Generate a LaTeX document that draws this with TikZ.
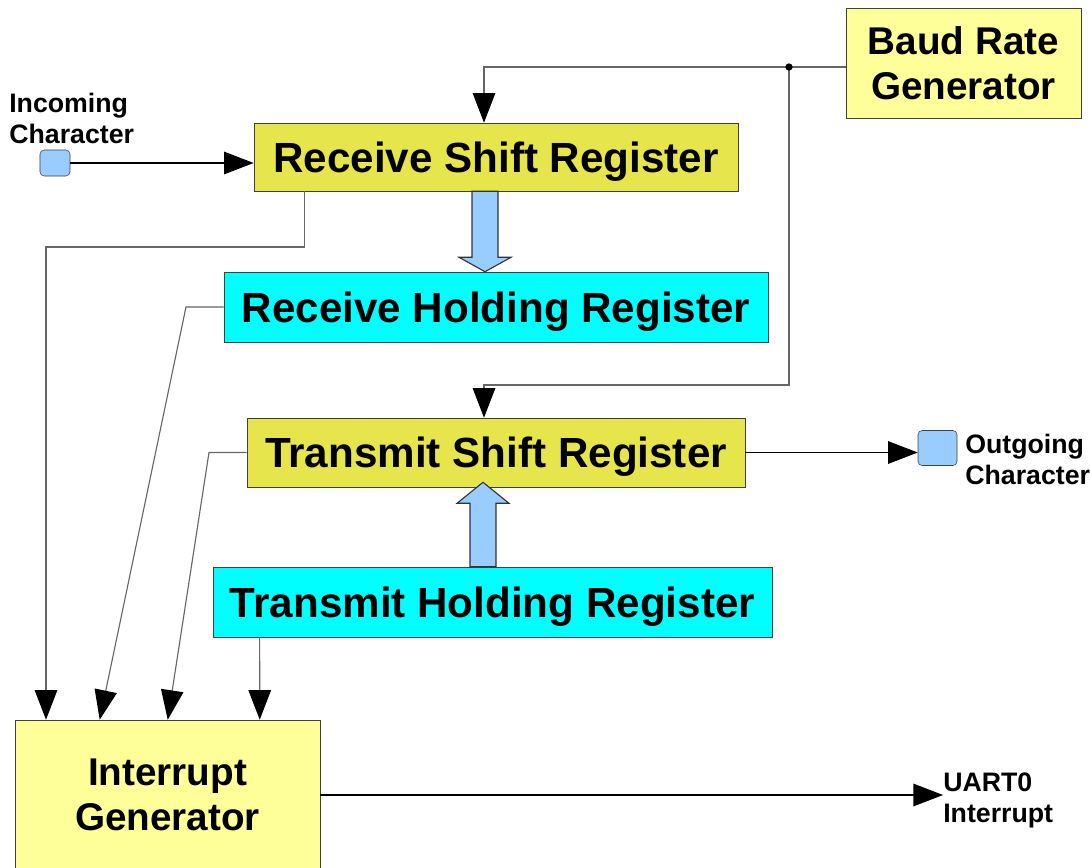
\documentclass[tikz,border=0pt]{standalone}
\usepackage{fontspec}
\setmainfont{Liberation Sans}
\usetikzlibrary{arrows.meta,positioning,calc}
\definecolor{regolive}{HTML}{E6E64C}
\definecolor{paleyel}{HTML}{FFFF99}
\definecolor{regcyan}{HTML}{00FFFF}
\definecolor{pinblue}{HTML}{99CCFF}
\tikzset{
  regbox/.style={rectangle,draw=black!75,fill=regolive,inner sep=0pt,text depth=0pt,font=\fontsize{30}{34}\selectfont\bfseries},
  holdbox/.style={regbox,fill=regcyan},
  genbox/.style={rectangle,draw=black!75,fill=paleyel,inner sep=0pt,text depth=0pt,align=center,font=\fontsize{27.5}{32}\selectfont\bfseries},
  pinbox/.style={rectangle,rounded corners=3pt,draw=black!75,fill=pinblue,inner sep=0pt},
  pinlab/.style={align=left,inner sep=0pt,font=\fontsize{19}{22}\selectfont\bfseries},
  sigline/.style={-{Triangle[length=21pt,width=16pt]},black,line width=0.8pt},
  ctlline/.style={-{Triangle[length=21pt,width=16pt,black]},black!60,line width=0.8pt},
  blockarr/.style={draw=black!80,fill=pinblue,line join=miter,line width=0.8pt}
}

\begin{document}
\begin{tikzpicture}[x=0.025cm,y=-0.025cm]
  \useasboundingbox (0,0) rectangle (1090,867);
  % blocks
  \node[genbox,minimum width=5.875cm,minimum height=2.75cm] (baud) at (963.5,63) {Baud Rate\\Generator};
  \node[regbox,minimum width=12.1cm,minimum height=1.7cm] (rsr) at (496,157) {Receive Shift Register};
  \node[holdbox,minimum width=13.6cm,minimum height=1.75cm] (rhr) at (496,307) {Receive Holding Register};
  \node[regbox,minimum width=12.45cm,minimum height=1.725cm] (tsr) at (496,452.5) {Transmit Shift Register};
  \node[holdbox,minimum width=13.975cm,minimum height=1.75cm] (thr) at (492.5,602) {Transmit Holding Register};
  \node[genbox,minimum width=7.625cm,minimum height=3.75cm] (intgen) at (167.5,795) {Interrupt\\Generator};
  % pins and their labels
  \node[pinbox,minimum width=0.75cm,minimum height=0.65cm] (inchar) at (55,163) {};
  \node[pinlab,anchor=north west] (inlab) at (9,93) {Incoming\\Character};
  \node[pinbox,minimum width=0.975cm,minimum height=0.875cm] (outchar) at (937.5,448) {};
  \node[pinlab,anchor=west] (outlab) at (965,459) {Outgoing\\Character};
  \node[pinlab,anchor=west] (uartlab) at (943,800) {UART0\\Interrupt};
  % data path
  \draw[sigline] (inchar) -- (rsr.west |- inchar);
  \draw[sigline] (tsr.east) -- (outchar.west |- tsr.east);
  \draw[sigline] (intgen.east |- 0,795) -- (uartlab.west |- 0,795);
  % baud clock
  \coordinate (junc) at (789,67);
  \coordinate (tbend) at (789,385);
  \draw[black!60,line width=0.8pt] (baud.west |- junc) -- (junc);
  \draw[ctlline] (junc) -| ([xshift=-0.3cm]rsr.north);
  \draw[ctlline] (junc) -- (tbend) -| ([xshift=-0.3cm]tsr.north);
  \fill (junc) circle (2.6pt);
  % interrupt sources
  \coordinate (rbend) at (46,247);
  \draw[ctlline] ([xshift=1.275cm]rsr.south west) |- (rbend) -- (rbend |- intgen.north);
  \draw[ctlline] (rhr.west) -- (186,307) -- ([xshift=2.125cm]intgen.north west);
  \draw[ctlline] (tsr.west) -- (209,452.5) -- ([xshift=3.825cm]intgen.north west);
  \draw[ctlline] ([xshift=1.175cm]thr.south west) -- ([xshift=6.125cm]intgen.north west);
  % register transfers
  \draw[blockarr] ($(rsr.south)+(-24,0)$) -- ($(rsr.south)+(-24,66)$) -- ($(rsr.south)+(-37,66)$)
    -- ($(rhr.north)+(-11,0)$) -- ($(rsr.south)+(15,66)$) -- ($(rsr.south)+(2,66)$)
    -- ($(rsr.south)+(2,0)$) -- cycle;
  \draw[blockarr] ($(thr.north)+(-22.5,0)$) -- ($(tsr.south)+(-26,16)$) -- ($(tsr.south)+(-39,16)$)
    -- ($(tsr.south)+(-13,-5)$) -- ($(tsr.south)+(13,16)$) -- ($(tsr.south)+(0,16)$)
    -- ($(thr.north)+(3.5,0)$) -- cycle;
\end{tikzpicture}
\end{document}
